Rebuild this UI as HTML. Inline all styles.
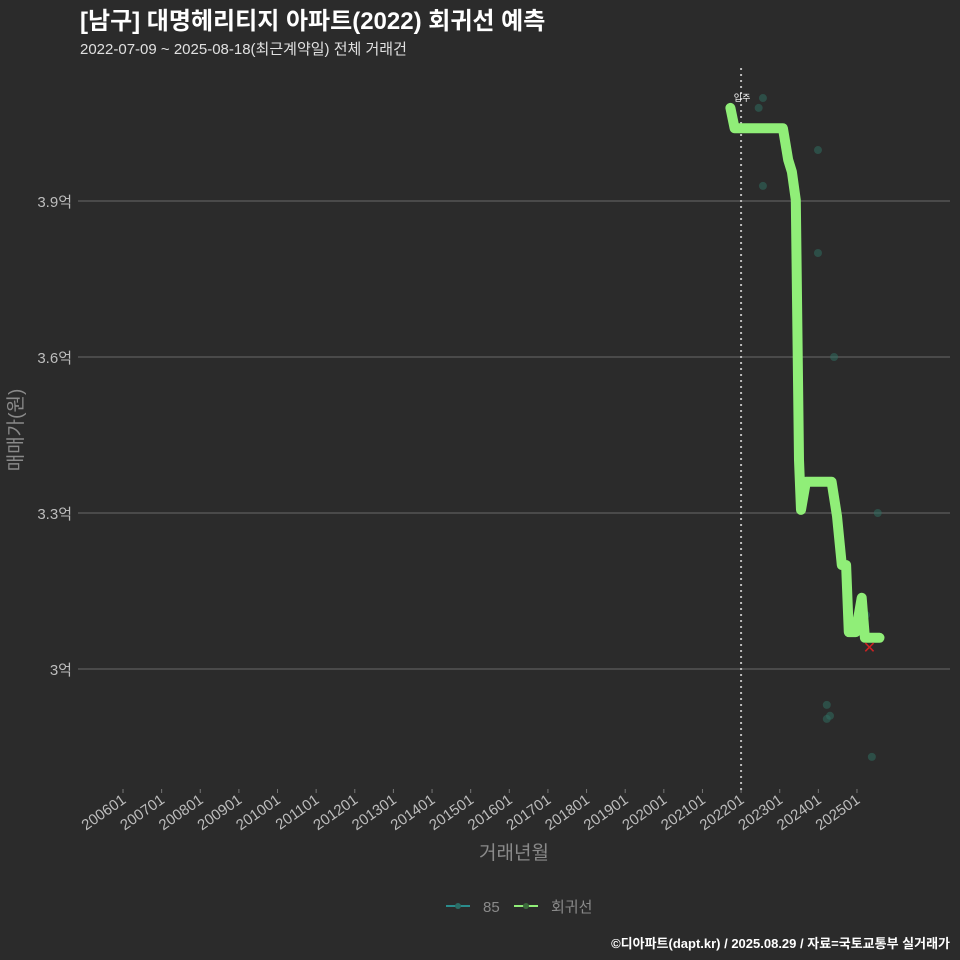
<!DOCTYPE html>
<html><head><meta charset="utf-8"><style>
body{margin:0;background:#2b2b2b;}
svg{display:block;font-family:"Liberation Sans","Noto Sans CJK KR",sans-serif;}
</style></head><body>
<svg id="chart" width="960" height="960" viewBox="0 0 960 960">
<rect width="960" height="960" fill="#2b2b2b"/>
<text x="80" y="29" fill="#ffffff" font-size="24" font-weight="bold">[남구] 대명헤리티지 아파트(2022) 회귀선 예측</text>
<text x="80" y="54" fill="#e0e0e0" font-size="15">2022-07-09 ~ 2025-08-18(최근계약일) 전체 거래건</text>
<g id="grid"></g>
<g id="yticks"></g>
<g id="xticks"></g>
<g id="marks"></g>
<text transform="translate(22,430) rotate(-90)" text-anchor="middle" fill="#8a8a8a" font-size="19">매매가(원)</text>
<text x="514" y="859" text-anchor="middle" fill="#8a8a8a" font-size="19">거래년월</text>
<g>
<g>
<line x1="446" y1="906" x2="470" y2="906" stroke="#2a8c8c" stroke-width="2"/><circle cx="458" cy="906" r="3" fill="#2a6d66"/>
<text x="483" y="912" fill="#8a8a8a" font-size="15">85</text></g>
<g>
<line x1="514" y1="906" x2="538" y2="906" stroke="#90ee78" stroke-width="2"/><circle cx="526" cy="906" r="3" fill="#3c6b3c"/>
<text x="551" y="912" fill="#8a8a8a" font-size="15">회귀선</text></g>
</g>
<text x="950" y="948" text-anchor="end" fill="#ffffff" font-size="13" font-weight="bold">©디아파트(dapt.kr) / 2025.08.29 / 자료=국토교통부 실거래가</text>
</svg>
<script>
const yTicks=[3.0,3.3,3.6,3.9];
const yTickLabels=["3억","3.3억","3.6억","3.9억"];
const xTickYears=[2006,2007,2008,2009,2010,2011,2012,2013,2014,2015,2016,2017,2018,2019,2020,2021,2022,2023,2024,2025];
const regDates=["2021-09-22","2021-11-01","2023-02-01","2023-03-20","2023-04-25","2023-06-01","2023-07-01","2023-07-20","2023-09-05","2024-05-05","2024-06-25","2024-08-10","2024-09-20","2024-10-15","2024-12-20","2025-02-15","2025-03-15","2025-08-01"];
const regValues=[4.079,4.040,4.040,3.979,3.956,3.902,3.402,3.306,3.360,3.360,3.294,3.200,3.200,3.071,3.071,3.137,3.060,3.060];
const ptDates=["2022-07-25","2022-06-15","2023-12-28","2022-07-25","2023-12-28","2024-05-28","2025-07-15","2024-03-20","2024-04-20","2024-03-20","2025-05-20","2025-03-25"];
const ptValues=[4.098,4.079,3.998,3.929,3.800,3.600,3.300,2.931,2.910,2.904,2.831,3.104];
const moveIn="2022-01-01";
const NS="http://www.w3.org/2000/svg";
function tYear(s){const d=s.split("-").map(Number);return d[0]+(d[1]-1)/12+((d[2]||1)-1)/365;}
function xs(t){return 123+(t-2006)*38.63;}
function ys(v){return 669-(v-3.0)*520;}
function mk(tag,attrs,parent){const e=document.createElementNS(NS,tag);for(const k in attrs)e.setAttribute(k,attrs[k]);parent.appendChild(e);return e;}
const grid=document.getElementById("grid"),yt=document.getElementById("yticks"),xt=document.getElementById("xticks"),marks=document.getElementById("marks");
yTicks.forEach((v,i)=>{
 const l=mk("line",{x1:78,x2:950,y1:ys(v),y2:ys(v),stroke:"#6a6a6a","stroke-width":1},grid);
 
 
 const t=mk("text",{x:72,y:ys(v)+6,"text-anchor":"end",fill:"#bdbdbd","font-size":15},yt);
 t.textContent=yTickLabels[i];
 
 
});
xTickYears.forEach(y=>{
 const x=xs(y);
 const tk=mk("line",{x1:x,x2:x,y1:789,y2:793,stroke:"#777"},xt);
 
 
 const t=mk("text",{transform:`translate(${x+4},${802}) rotate(-35)`,"text-anchor":"end",fill:"#bdbdbd","font-size":15},xt);
 t.textContent=y+"01";
 
 
});
const mx=xs(tYear(moveIn));
const ml=mk("line",{x1:mx,x2:mx,y1:68,y2:790,stroke:"#bbbbbb","stroke-width":2,"stroke-dasharray":"2,4"},marks);


const mt=mk("text",{x:mx+1,y:101,"text-anchor":"middle",fill:"#ffffff","font-size":9},marks);
mt.textContent="입주";


ptDates.forEach((d,i)=>{
 const c=mk("circle",{cx:xs(tYear(d)),cy:ys(ptValues[i]),r:4,fill:"#2f6b5e","fill-opacity":0.55},marks);
 
 
});
const pts=regDates.map((d,i)=>xs(tYear(d)).toFixed(1)+","+ys(regValues[i]).toFixed(1)).join(" ");
const pl=mk("polyline",{points:pts,fill:"none",stroke:"#90ee78","stroke-width":10,"stroke-linejoin":"round","stroke-linecap":"round"},marks);


const lx=xs(tYear(regDates[regDates.length-1]))-10,ly=ys(regValues[regValues.length-1])+10;
const xm=mk("text",{x:lx,y:ly+5,"text-anchor":"middle",fill:"#cc2222","font-size":16},marks);
xm.textContent="✕";


</script>
</body></html>
